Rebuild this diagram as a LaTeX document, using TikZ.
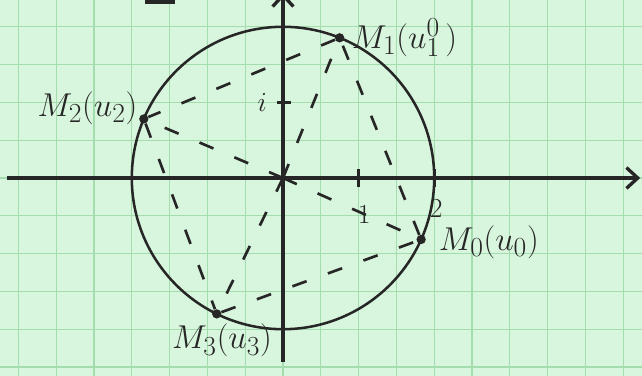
\documentclass[tikz,border=0pt]{standalone}
\usepackage{tikz}
\usetikzlibrary{arrows.meta,positioning}

\begin{document}
\begin{tikzpicture}[x=1cm,y=1cm,
  inchiostro/.style={draw=ink, line width=1.9pt},
  asse/.style={draw=ink, line width=2.5pt},
  tratt/.style={draw=ink, line width=2pt, dash pattern=on 4mm off 6mm},
  punto/.style={circle, fill=ink, inner sep=0pt, minimum size=7pt},
  etich/.style={font=\Huge, text=ink, inner sep=1pt},
  num/.style={font=\huge, text=ink, inner sep=1pt}]

% Colori
\definecolor{carta}{HTML}{D8F5DD}
\definecolor{quad}{HTML}{A3DDAD}
\definecolor{ink}{HTML}{262626}

% Raggio (in quadretti)
\def\r{4}

% Foglio a quadretti
\clip (-7.487,-5.238) rectangle (9.497,4.709);
\fill[carta] (-7.487,-5.238) rectangle (9.497,4.709);
\draw[quad, line width=0.9pt] (-7.487,-5.238) grid (9.497,4.709);

% Assi
\coordinate (O) at (0,0);
\coordinate (xs) at (-7.3,0);
\coordinate (xe) at (9.45,0);
\coordinate (ys) at (0,-4.87);
\coordinate (ye) at (0,4.9);
\draw[asse, -{Straight Barb[length=3mm,width=5.5mm]}] (xs) -- (xe);
\draw[asse, -{Straight Barb[length=3mm,width=5.5mm]}] (ys) -- (ye);

% Tacche
\draw[asse] (2,-0.25) -- (2,0.25);
\draw[asse] (4,-0.25) -- (4,0.25);
\draw[asse] (-0.15,2) -- (0.2,2);
\node[num] (n1) at (2.15,-0.95) {1};
\node[num] (n2) at (4.05,-0.8) {2};
\node[num] (ni) at (-0.55,2.0) {$i$};

% Segno in alto
\draw[ink, line width=2.5pt] (-3.65,4.66) -- (-2.86,4.66);

% Cerchio
\draw[inchiostro] (O) circle (\r);

% Punti
\node[punto] (M0) at (-24:\r) {};
\node[punto] (M1) at (68:\r) {};
\node[punto] (M2) at (157:\r) {};
\node[punto] (M3) at (244:\r) {};

% Segmenti tratteggiati
\draw[tratt] (O) -- (M0);
\draw[tratt] (O) -- (M1);
\draw[tratt] (O) -- (M2);
\draw[tratt] (O) -- (M3);
\draw[tratt] (M0) -- (M1) -- (M2) -- (M3) -- (M0);

% Etichette
\node[etich, right=0.15 of M1] (lM1) {$M_1(u_1^{0}\,)$};
\node[etich, left=0pt of M2, yshift=8pt] (lM2) {$M_2(u_2)$};
\node[etich, right=0.3 of M0, yshift=-2pt] (lM0) {$M_0(u_0)$};
\node[etich, below=0.1 of M3, xshift=4pt] (lM3) {$M_3(u_3)$};
\end{tikzpicture}
\end{document}
